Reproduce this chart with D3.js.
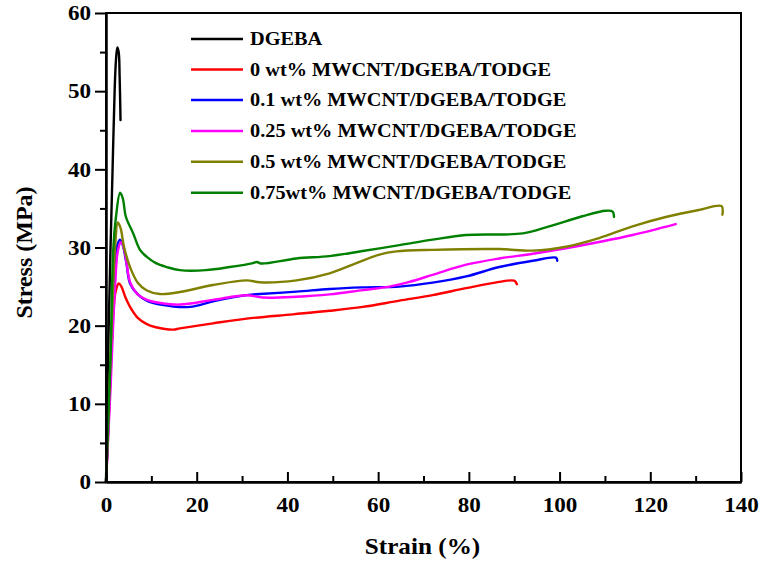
<!DOCTYPE html>
<html>
<head>
<meta charset="utf-8">
<script src="https://cdn.jsdelivr.net/npm/d3@7"></script>
<style>
  body { margin: 0; background: #fff; }
</style>
</head>
<body>
<svg id="chart" width="760" height="565"></svg>
<script>
// strain (%) , stress (MPa) pairs
const dgeba = [[0,0],[0.3,10],[0.6,20],[1.0,30],[1.45,40],[1.9,50],[2.2,54],[2.5,55.6],[2.8,55],[3.0,52],[3.2,46.3]];
const cnt0 = [[0,0],[0.4,5],[0.8,11],[1.2,17],[1.6,21.5],[2.1,24.3],[2.8,25.4],[3.4,25],[4.3,23.6],[5.3,22.4],[7,21],[9,20.2],[11,19.8],[14.8,19.5],[16.3,19.65],[23.6,20.3],[31,20.9],[41.2,21.45],[49.3,21.9],[56.6,22.4],[64.7,23.2],[72,23.9],[79.4,24.8],[86.7,25.6],[90,25.75],[90.6,25.3]];
const cnt01 = [[0,0],[0.5,7],[1,14],[1.5,21],[2,27],[2.6,30.5],[3.1,31.0],[3.7,30.3],[4.5,28],[5.3,25.4],[7,24],[9,23.2],[12,22.7],[18.5,22.4],[23.6,23.1],[31,23.9],[33.9,24.05],[42,24.35],[49.3,24.7],[56.6,24.9],[64.7,25.0],[72,25.5],[79.4,26.3],[86.7,27.5],[94.1,28.3],[99.2,28.7],[99.5,28.3]];
const cnt025 = [[0,0],[0.5,6],[1,12],[1.5,19],[2,25],[2.6,29.5],[3.3,30.7],[3.9,30],[4.6,27.8],[5.3,25.6],[7,24],[9,23.3],[12,22.9],[16.3,22.7],[23.6,23.3],[31,23.9],[34.6,23.6],[42,23.7],[49.3,24.0],[56.6,24.55],[62.5,25.0],[66.9,25.6],[72,26.5],[79.4,27.8],[86.7,28.6],[94.1,29.2],[101.4,29.9],[108.7,30.7],[116.1,31.6],[125.6,33.0]];
const cnt05 = [[0,0],[0.5,8],[1,16],[1.5,24],[2,30],[2.6,33.2],[3.2,32.5],[4,30],[5.3,27.5],[7,25.5],[9,24.5],[11.9,24.05],[16.3,24.3],[23.6,25.2],[31,25.8],[33.9,25.55],[42,25.8],[49.3,26.7],[55.2,28.0],[60.3,29.1],[64,29.5],[72,29.7],[86.7,29.8],[94.1,29.6],[101.4,30.1],[108.7,31.2],[116.1,32.7],[123.4,33.9],[130.7,34.8],[135.7,35.3],[135.9,34.2]];
const cnt075 = [[0,0],[0.5,8],[1,16],[1.6,29.7],[2.2,33.9],[3.1,37],[3.7,36.3],[4.4,33.9],[6,31.8],[7.5,29.7],[9,28.8],[11,28],[13.4,27.5],[16.3,27.1],[22,27.1],[27.3,27.5],[32.4,28.0],[33.3,28.15],[34.2,27.95],[42,28.6],[49.3,28.9],[56.6,29.55],[64.7,30.3],[72,31.0],[79.4,31.6],[91.9,31.8],[97.7,32.7],[105,34.0],[110.2,34.7],[111.7,34.6],[112,33.9]];

const seriesNames = ["DGEBA", "0 wt% MWCNT/DGEBA/TODGE", "0.1 wt% MWCNT/DGEBA/TODGE", "0.25 wt% MWCNT/DGEBA/TODGE", "0.5 wt% MWCNT/DGEBA/TODGE", "0.75wt% MWCNT/DGEBA/TODGE"];
const seriesColors = ["#000000", "#ff0000", "#0000ff", "#ff00ff", "#808000", "#008000"];
const seriesData = [dgeba, cnt0, cnt01, cnt025, cnt05, cnt075];

const xTicks = [0, 20, 40, 60, 80, 100, 120, 140];
const xMinor = [10, 30, 50, 70, 90, 110, 130];
const yTicks = [0, 10, 20, 30, 40, 50, 60];
const yMinor = [5, 15, 25, 35, 45, 55];

const plotLeft = 106, plotRight = 741, plotTop = 13, plotBottom = 482;
const fontFamily = "'Liberation Serif', 'Times New Roman', serif";

const svg = d3.select("#chart");

const x = d3.scaleLinear().domain([0, 140]).range([plotLeft, plotRight]);
const y = d3.scaleLinear().domain([0, 60]).range([plotBottom, plotTop]);

// frame
svg.append("rect")
    .attr("x", plotLeft).attr("y", plotTop)
    .attr("width", plotRight - plotLeft).attr("height", plotBottom - plotTop)
    .attr("fill", "none").attr("stroke", "#000").attr("stroke-width", 2);

// curves
const line = d3.line()
    .x(d => x(d[0]))
    .y(d => y(d[1]))
    .curve(d3.curveCatmullRom.alpha(0.5));

svg.append("g")
    .selectAll("path")
    .data(seriesData)
    .join("path")
    .attr("fill", "none")
    .attr("stroke", (d, i) => seriesColors[i])
    .attr("stroke-width", 2.4)
    .attr("stroke-linejoin", "round")
    .attr("stroke-linecap", "round")
    .attr("d", d => line(d));

// y axis, ticks outward
svg.append("g")
    .attr("transform", "translate(" + plotLeft + ",0)")
    .call(d3.axisLeft(y).tickValues(yTicks).tickSize(11).tickSizeOuter(0).tickPadding(2.5));
svg.append("g")
    .attr("transform", "translate(" + plotLeft + ",0)")
    .call(d3.axisLeft(y).tickValues(yMinor).tickSize(6).tickSizeOuter(0).tickFormat(""));

// x axis, ticks inward
svg.append("g")
    .attr("class", "x-axis")
    .attr("transform", "translate(0," + plotBottom + ")")
    .call(d3.axisBottom(x).tickValues(xTicks).tickSize(-10).tickSizeOuter(0).tickPadding(15));
svg.append("g")
    .attr("transform", "translate(0," + plotBottom + ")")
    .call(d3.axisBottom(x).tickValues(xMinor).tickSize(-6).tickSizeOuter(0).tickFormat(""));

svg.selectAll(".domain").attr("stroke-width", 2);
svg.selectAll(".tick line").attr("stroke-width", 2);
svg.selectAll(".tick text")
    .attr("transform", "scale(1.1,1)")
    .style("font-family", fontFamily)
    .style("font-weight", "bold")
    .style("font-size", "21px")
    .style("fill", "#000");

// axis titles
svg.append("text")
    .attr("transform", "translate(" + ((plotLeft + plotRight) / 2 - 1) + ",554) scale(1.05,1)")
    .attr("text-anchor", "middle")
    .style("font-family", fontFamily)
    .style("font-weight", "bold")
    .style("font-size", "24px")
    .text("Strain (%)");

svg.append("text")
    .attr("transform", "translate(32,252.5) rotate(-90)")
    .attr("text-anchor", "middle")
    .style("font-family", fontFamily)
    .style("font-weight", "bold")
    .style("font-size", "24px")
    .text("Stress (MPa)");

// legend
const legendY = [39, 69.5, 100, 131, 161.7, 192.7];
const legend = svg.append("g");
legend.selectAll("line")
    .data(seriesNames)
    .join("line")
    .attr("x1", 191).attr("x2", 243)
    .attr("y1", (d, i) => legendY[i]).attr("y2", (d, i) => legendY[i])
    .attr("stroke", (d, i) => seriesColors[i])
    .attr("stroke-width", 2.4);
legend.selectAll("text")
    .data(seriesNames)
    .join("text")
    .attr("transform", (d, i) => "translate(250," + (legendY[i] + 6) + ") scale(1.13,1)")
    .style("font-family", fontFamily)
    .style("font-weight", "bold")
    .style("font-size", "18px")
    .text(d => d);
</script>
</body>
</html>
